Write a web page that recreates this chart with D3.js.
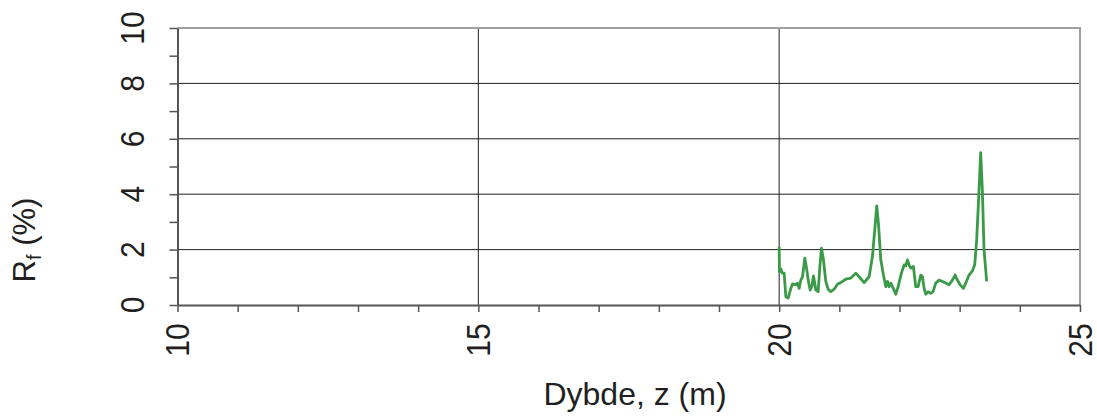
<!DOCTYPE html>
<html>
<head>
<meta charset="utf-8">
<script src="https://cdn.jsdelivr.net/npm/d3@7"></script>
<style>
  body { margin: 0; background: #fff; }
  text { font-family: "Liberation Sans", Arial, sans-serif; fill: #231f20; }
</style>
</head>
<body>
<div id="chart"></div>
<script>
// depth (m) and Rf (%)
var depth = [20.000, 20.005, 20.028, 20.055, 20.083, 20.111, 20.150, 20.194, 20.221, 20.277,
             20.305, 20.332, 20.360, 20.388, 20.426, 20.460, 20.482, 20.515, 20.543, 20.570,
             20.592, 20.609, 20.648, 20.676, 20.703, 20.736, 20.775, 20.814, 20.858, 20.914,
             20.969, 21.052, 21.107, 21.190, 21.273, 21.329, 21.412, 21.495, 21.550, 21.589,
             21.622, 21.650, 21.689, 21.733, 21.772, 21.800, 21.827, 21.855, 21.883, 21.938,
             21.977, 22.032, 22.076, 22.104, 22.132, 22.159, 22.187, 22.231, 22.270, 22.309,
             22.353, 22.381, 22.409, 22.436, 22.475, 22.519, 22.558, 22.602, 22.658, 22.713,
             22.769, 22.824, 22.879, 22.924, 22.962, 23.007, 23.062, 23.101, 23.156, 23.211,
             23.250, 23.283, 23.322, 23.349, 23.377, 23.405, 23.449]
var rf = [2.10, 1.20, 1.30, 1.15, 1.15, 0.30, 0.25, 0.60, 0.76, 0.73,
          0.79, 0.60, 0.90, 1.02, 1.69, 1.26, 0.90, 0.54, 0.66, 1.05,
          0.79, 0.54, 0.48, 1.38, 2.05, 1.63, 0.85, 0.57, 0.48, 0.57,
          0.75, 0.85, 0.93, 0.97, 1.15, 1.02, 0.81, 1.02, 1.75, 2.71,
          3.58, 2.95, 1.63, 1.08, 0.66, 0.85, 0.66, 0.79, 0.66, 0.39,
          0.66, 1.15, 1.45, 1.41, 1.63, 1.45, 1.33, 1.39, 0.66, 0.66,
          1.08, 1.02, 0.60, 0.39, 0.48, 0.42, 0.48, 0.79, 0.90, 0.85,
          0.79, 0.73, 0.90, 1.08, 0.90, 0.73, 0.60, 0.79, 1.08, 1.23,
          1.45, 2.35, 4.16, 5.50, 4.16, 1.99, 0.85]

var xTicks = [10, 15, 20, 25]
var yTicks = [0, 2, 4, 6, 8, 10]

var width = 1097
var height = 416

var svg = d3.select("#chart")
  .append("svg")
  .attr("width", width)
  .attr("height", height)

var x = d3.scaleLinear().domain([10, 25]).range([177.5, 1080])
var y = d3.scaleLinear().domain([0, 10]).range([305, 28])

// gridlines
svg.append("g")
  .selectAll("line")
  .data(yTicks.filter(d => d > 0 && d < 10))
  .join("line")
    .attr("x1", x(10)).attr("x2", x(25))
    .attr("y1", d => y(d)).attr("y2", d => y(d))
    .attr("stroke", "#231f20")
    .attr("stroke-width", 1)

svg.append("g")
  .selectAll("line")
  .data(xTicks.filter(d => d > 10 && d < 25))
  .join("line")
    .attr("x1", d => x(d)).attr("x2", d => x(d))
    .attr("y1", y(0)).attr("y2", y(10))
    .attr("stroke", "#231f20")
    .attr("stroke-width", 1)

// top and right frame
svg.append("path")
  .attr("d", `M${x(10)},${y(10)}H${x(25)}V${y(0)}`)
  .attr("fill", "none")
  .attr("stroke", "#a0a0a0")
  .attr("stroke-width", 2)

// axes with minor ticks
var xAxis = svg.append("g")
  .attr("transform", `translate(0,${y(0)})`)
  .call(d3.axisBottom(x).tickValues(d3.range(10, 26, 1)).tickSize(7).tickSizeOuter(0).tickFormat(""))
var yAxis = svg.append("g")
  .attr("transform", `translate(${x(10)},0)`)
  .call(d3.axisLeft(y).tickValues(d3.range(0, 11, 1)).tickSize(8).tickSizeOuter(0).tickFormat(""))

svg.selectAll(".domain").attr("stroke", "#555").attr("stroke-width", 2)
svg.selectAll(".tick line").attr("stroke", "#555").attr("stroke-width", 1.5)

// tick labels, rotated (glyphs a little stretched like the original)
svg.append("g")
  .selectAll("text")
  .data(xTicks)
  .join("text")
    .attr("transform", d => `translate(${x(d)},340) rotate(-90) scale(1,1.08)`)
    .attr("text-anchor", "middle")
    .attr("dy", "0.36em")
    .attr("font-size", 30)
    .text(d => d)

svg.append("g")
  .selectAll("text")
  .data(yTicks)
  .join("text")
    .attr("transform", d => `translate(132.5,${y(d)}) rotate(-90) scale(1,1.08)`)
    .attr("text-anchor", "middle")
    .attr("dy", "0.36em")
    .attr("font-size", 30)
    .text(d => d)

// data line
svg.append("path")
  .datum(d3.zip(depth, rf))
  .attr("fill", "none")
  .attr("stroke", "#3b9a48")
  .attr("stroke-width", 2.8)
  .attr("stroke-linejoin", "round")
  .attr("d", d3.line().x(d => x(d[0])).y(d => y(d[1])))

// axis titles
svg.append("text")
  .attr("x", 635)
  .attr("y", 405)
  .attr("text-anchor", "middle")
  .attr("font-size", 32)
  .text("Dybde, z (m)")

var yt = svg.append("text")
  .attr("transform", "translate(35,240) rotate(-90)")
  .attr("text-anchor", "middle")
  .attr("font-size", 31)
yt.append("tspan").text("R")
yt.append("tspan").attr("font-size", 20).attr("dy", 6).text("f")
yt.append("tspan").attr("dy", -6).text(" (%)")
</script>
</body>
</html>
